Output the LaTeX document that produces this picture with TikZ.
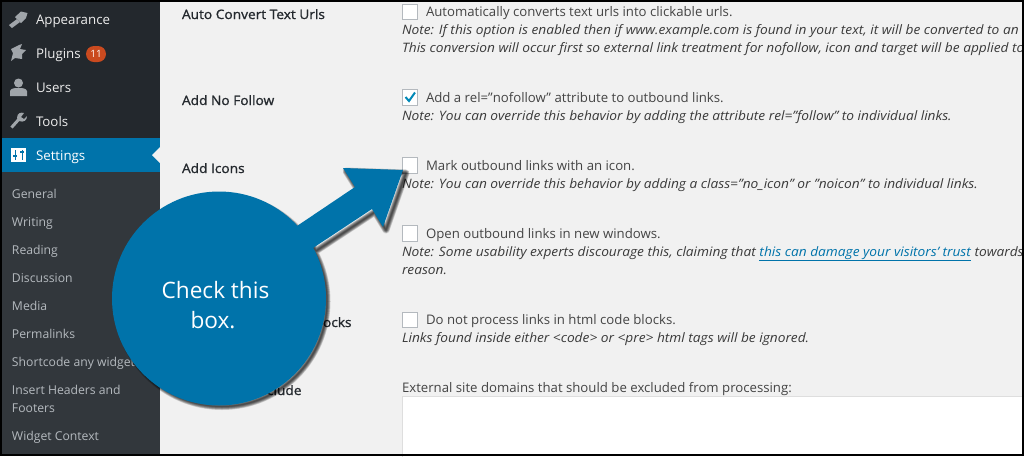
\documentclass[tikz,border=0pt]{standalone}
\usepackage{fontspec}
\setmainfont{Open Sans}
\definecolor{menubar}{HTML}{23282D}
\definecolor{submenu}{HTML}{32373C}
\definecolor{wpblue}{HTML}{0073AA}
\definecolor{pagebg}{HTML}{F1F1F1}
\definecolor{icongrey}{HTML}{A0A5AA}
\definecolor{subtext}{HTML}{B4B9BE}
\definecolor{bodytext}{HTML}{444444}
\definecolor{badgered}{HTML}{CA4A1F}
\definecolor{boxline}{HTML}{B4B9BE}
\tikzset{
	every node/.style={inner sep=0pt,outer sep=0pt},
	menuitem/.style={anchor=base west,text=white!93!black,font=\fontsize{13.300}{13}\selectfont},
	subitem/.style={anchor=base west,text=subtext,font=\fontsize{12.200}{12.200}\selectfont},
	rowlabel/.style={anchor=base west,text=menubar,font=\fontsize{13}{13}\selectfont\addfontfeature{FakeBold=1.2,FakeStretch=1.055}},
	optiontext/.style={anchor=base west,text=bodytext,font=\fontsize{13.200}{13}\selectfont},
	notetext/.style={anchor=base west,text=bodytext!85!black,font=\fontsize{13}{13}\selectfont\itshape\addfontfeature{FakeStretch=1.055}},
	checkbox/.style={draw=boxline,fill=white,line width=0.8pt,minimum size=15.5pt,anchor=north west},
}
\begin{document}
\begin{tikzpicture}[x=1pt,y=-1pt]
	\useasboundingbox (0,0) rectangle (1024,456);
	%Nen
	\fill[pagebg] (0,0) rectangle (1024,456);
	\fill[menubar] (0,0) rectangle (160,138);
	\fill[wpblue] (0,138) rectangle (160,172);
	\fill[submenu] (0,172) rectangle (160,456);
	\fill[pagebg] (152,155) -- (160,147) -- (160,163) -- cycle;
	%Icons
	\fill[icongrey] (9,25) -- (17,19) -- (20,22) -- (12,28) -- cycle;
	\fill[icongrey] (15,17) -- (21,11.500) -- (27.500,13) -- (26,18) -- (21,23) -- cycle;
	\fill[icongrey] (11,61) -- (13,53) -- (11,49) -- (19,45) -- (22,44) -- (20,49) -- (26,50) -- (22,54) -- (22,59) -- (15,58) -- cycle;
	\fill[icongrey] (18.500,83) circle (4.500);
	\fill[icongrey] (10,96) -- (10,91) .. controls (11,88) and (15,88) .. (18.500,88) .. controls (22,88) and (26,88) .. (27,91) -- (27,96) -- cycle;
	\draw[icongrey,line width=3pt] (11.500,127.500) -- (20,118);
	\fill[icongrey] (17,118) .. controls (17,113) and (21,112) .. (24,113) -- (21,117) -- (24,119) -- (27,116) .. controls (27,120) and (24,123) .. (19,121) -- cycle;
	\fill[white] (11,148) rectangle (26,162);
	\draw[wpblue,line width=1pt] (15,150) -- (15,160) (22,150) -- (22,160);
	\draw[wpblue,line width=1.600pt] (13,156) -- (17,156) (20,152) -- (24,152);
	%Menu
	\node[menuitem] (appearance) at (36,24) {Appearance};
	\node[menuitem] (plugins) at (36,58) {Plugins};
	\node[fill=badgered,rounded corners=8pt,minimum width=20pt,minimum height=16pt,text=white,font=\fontsize{10}{10}\selectfont] (badge) at (96,54) {11};
	\node[menuitem] (users) at (36,92) {Users};
	\node[menuitem] (tools) at (36,126) {Tools};
	\node[menuitem,text=white] (settings) at (36,160) {Settings};
	\node[subitem] (general) at (12,198) {General};
	\node[subitem] (writing) at (12,226) {Writing};
	\node[subitem] (reading) at (12,254) {Reading};
	\node[subitem] (discussion) at (12,282) {Discussion};
	\node[subitem] (media) at (12,310) {Media};
	\node[subitem] (permalinks) at (12,338) {Permalinks};
	\node[subitem] (shortcode) at (12,366) {Shortcode any widget};
	\node[subitem] (headers) at (12,394) {Insert Headers and};
	\node[subitem] (footers) at (12,412) {Footers};
	\node[subitem] (context) at (12,440) {Widget Context};
	%Row labels
	\node[rowlabel] (autolabel) at (182,19) {Auto Convert Text Urls};
	\node[rowlabel] (followlabel) at (182,105) {Add No Follow};
	\node[rowlabel] (iconlabel) at (182,173) {Add Icons};
	\node[rowlabel] (blockslabel) at (323,327) {ocks};
	\node[rowlabel] (cludelabel) at (267,395) {clude};
	%Options
	\node[checkbox] (autobox) at (402,4) {};
	\node[optiontext] (autotext) at (426,16) {Automatically converts text urls into clickable urls.};
	\node[notetext] (autonote) at (402,34) {Note: If this option is enabled then if www.example.com is found in your text, it will be converted to an};
	\node[notetext] (autonotetwo) at (402,52) {This conversion will occur first so external link treatment for nofollow, icon and target will be applied to};
	\node[checkbox] (followbox) at (402,89.500) {};
	\draw[wpblue!85!cyan,line width=2pt] (405.500,97) -- (409,101) -- (415,92.500);
	\node[optiontext] (followtext) at (426,102) {Add a rel="nofollow" attribute to outbound links.};
	\node[notetext] (follownote) at (402,120) {Note: You can override this behavior by adding the attribute rel="follow" to individual links.};
	\node[checkbox] (iconbox) at (402,157.500) {};
	\node[optiontext] (icontext) at (426,170) {Mark outbound links with an icon.};
	\node[notetext] (iconnote) at (402,188) {Note: You can override this behavior by adding a class="no\_icon" or "noicon" to individual links.};
	\node[checkbox] (windowbox) at (402,225.500) {};
	\node[optiontext] (windowtext) at (426,238) {Open outbound links in new windows.};
	\node[notetext] (windownote) at (402,256) {Note: Some usability experts discourage this, claiming that \textcolor{wpblue}{\underline{this can damage your visitors' trust}} towards};
	\node[notetext] (windownotetwo) at (402,274) {reason.};
	\node[checkbox] (codebox) at (402,312) {};
	\node[optiontext] (codetext) at (426,324) {Do not process links in html code blocks.};
	\node[notetext] (codenote) at (402,342) {Links found inside either <code> or <pre> html tags will be ignored.};
	\node[optiontext] (domaintext) at (402,392) {External site domains that should be excluded from processing:};
	\draw[draw=black!13,fill=white,line width=0.8pt] (402.500,396.500) rectangle (1030,470);
	%Callout shadow
	\foreach \w in {1,2,...,7}
		\draw[black,opacity=0.15,line width=\w pt,fill opacity=0.15,line join=round,shift={(3,3)}]
			(219,298.500) circle (105)
			(297,226) -- (355,187) -- (343,168) -- (403,170) -- (383,227) -- (372,209) -- (313,248) -- cycle;
	%Callout
	\fill[wpblue] (297,226) -- (355,187) -- (343,168) -- (403,170) -- (383,227) -- (372,209) -- (313,248) -- cycle;
	\node[circle,fill=wpblue,minimum size=214pt] (callout) at (219,298.500) {};
	\node[text=white,align=center,font=\fontsize{22.600}{30}\selectfont] (callouttext) at (215.500,305) {Check this\\box.\hspace*{5pt}};
	%Vien
	\draw[black,line width=2pt] (1,1) rectangle (1023,455);
\end{tikzpicture}
\end{document}
